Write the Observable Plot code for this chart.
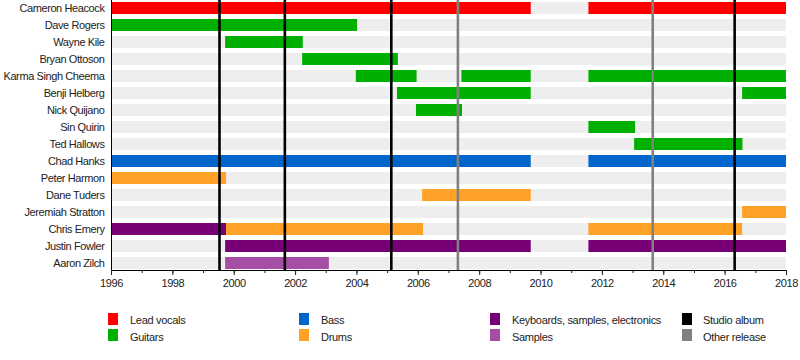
<!DOCTYPE html>
<html><head><meta charset="utf-8">
<script src="https://cdn.jsdelivr.net/npm/d3@7"></script>
<script src="https://cdn.jsdelivr.net/npm/@observablehq/plot@0.6"></script>
<style>
body{margin:0;background:#fff;font-family:"Liberation Sans",Arial,sans-serif;}
#wrap{position:relative;width:800px;height:360px;overflow:hidden;}
#chart svg text{letter-spacing:-0.4px;}
.lg{position:absolute;font-size:11px;letter-spacing:-0.3px;color:#222;line-height:12px;white-space:nowrap;}
.sw{position:absolute;width:10px;height:12px;}
</style></head><body><div id="wrap"><div id="chart"></div><div id="legend"></div></div>
<script>
const members = ["Cameron Heacock","Dave Rogers","Wayne Kile","Bryan Ottoson","Karma Singh Cheema","Benji Helberg","Nick Quijano","Sin Quirin","Ted Hallows","Chad Hanks","Peter Harmon","Dane Tuders","Jeremiah Stratton","Chris Emery","Justin Fowler","Aaron Zilch"];

const spanMember = ["Cameron Heacock","Cameron Heacock","Dave Rogers","Wayne Kile","Bryan Ottoson","Karma Singh Cheema","Karma Singh Cheema","Karma Singh Cheema","Benji Helberg","Benji Helberg","Nick Quijano","Sin Quirin","Ted Hallows","Chad Hanks","Chad Hanks","Peter Harmon","Dane Tuders","Jeremiah Stratton","Chris Emery","Chris Emery","Chris Emery","Justin Fowler","Justin Fowler","Aaron Zilch"];
const spanRole = ["Lead vocals","Lead vocals","Guitars","Guitars","Guitars","Guitars","Guitars","Guitars","Guitars","Guitars","Guitars","Guitars","Guitars","Bass","Bass","Drums","Drums","Drums","Keyboards, samples, electronics","Drums","Drums","Keyboards, samples, electronics","Keyboards, samples, electronics","Samples"];
const spanStart = [1996,2011.56,1996,1999.72,2002.23,2003.98,2007.42,2011.56,2005.32,2016.57,2005.94,2011.56,2013.05,1996,2011.56,1996,2006.14,2016.57,1996,1999.75,2011.56,1999.72,2011.56,1999.72];
const spanEnd = [2009.68,2018,2004.02,2002.25,2005.35,2005.96,2009.68,2018,2009.68,2018,2007.44,2013.08,2016.58,2009.68,2018,1999.75,2009.68,2018,1999.75,2006.17,2016.57,2009.68,2018,2003.1];

const releaseYear = [1999.52,2001.65,2005.12,2007.29,2013.64,2016.31];
const releaseType = ["Studio album","Studio album","Studio album","Other release","Other release","Studio album"];

const xStart = 1996, xEnd = 2018;
const minorYears = d3.range(1996, 2019, 1);
const majorYears = [1996,1998,2000,2002,2004,2006,2008,2010,2012,2014,2016,2018];

const legendItems = ["Lead vocals","Guitars","Bass","Drums","Keyboards, samples, electronics","Samples","Studio album","Other release"];
const legendColors = ["#ff0000","#00b000","#0066cc","#ffa126","#770077","#a64da6","#000000","#808080"];

const spans = spanMember.map((m,i)=>({member:m, role:spanRole[i], start:spanStart[i], end:spanEnd[i]}));
const releases = releaseYear.map((y,i)=>({year:y, type:releaseType[i]}));
const bg = members.map(m=>({member:m, start:xStart, end:xEnd}));

const plot = Plot.plot({
  width:800, height:300,
  marginTop:0, marginBottom:30, marginLeft:111, marginRight:14,
  style:{fontFamily:'"Liberation Sans",Arial,sans-serif', fontSize:"11px", color:"#222", background:"#fff"},
  x:{domain:[xStart,xEnd]},
  y:{domain:members, range:[-1.6,273.1], paddingInner:0.29, paddingOuter:0.145},
  color:{domain:legendItems, range:legendColors},
  marks:[
    Plot.barX(bg, {y:"member", x1:"start", x2:"end", fill:"#eeeeee"}),
    Plot.barX(spans, {y:"member", x1:"start", x2:"end", fill:"role"}),
    Plot.ruleX(releases, {x:"year", stroke:"type", strokeWidth:2.6}),
    Plot.frame({anchor:"bottom", stroke:"#000"}),
    Plot.frame({anchor:"left", stroke:"#000"}),
    Plot.axisY({tickSize:0, tickPadding:7, fontSize:11, label:null}),
    Plot.axisX({ticks:minorYears, tickSize:3, tickFormat:()=>"", label:null}),
    Plot.axisX({ticks:majorYears, tickSize:5, tickPadding:4, tickFormat:"d", fontSize:11, label:null})
  ]
});
document.getElementById("chart").appendChild(plot);

// legend
const leg = document.getElementById("legend");
const colX = [108, 299, 490, 682];
const textX = [130, 321, 512, 703];
const swY = [313, 329];
const txY = [314, 331];
legendItems.forEach((name,i)=>{
  const c = Math.floor(i/2), r = i%2;
  const sw = document.createElement("div");
  sw.className = "sw";
  sw.style.left = colX[c]+"px"; sw.style.top = swY[r]+"px";
  sw.style.background = legendColors[i];
  leg.appendChild(sw);
  const t = document.createElement("div");
  t.className = "lg";
  t.style.left = textX[c]+"px"; t.style.top = txY[r]+"px";
  t.textContent = name;
  leg.appendChild(t);
});
</script></body></html>
